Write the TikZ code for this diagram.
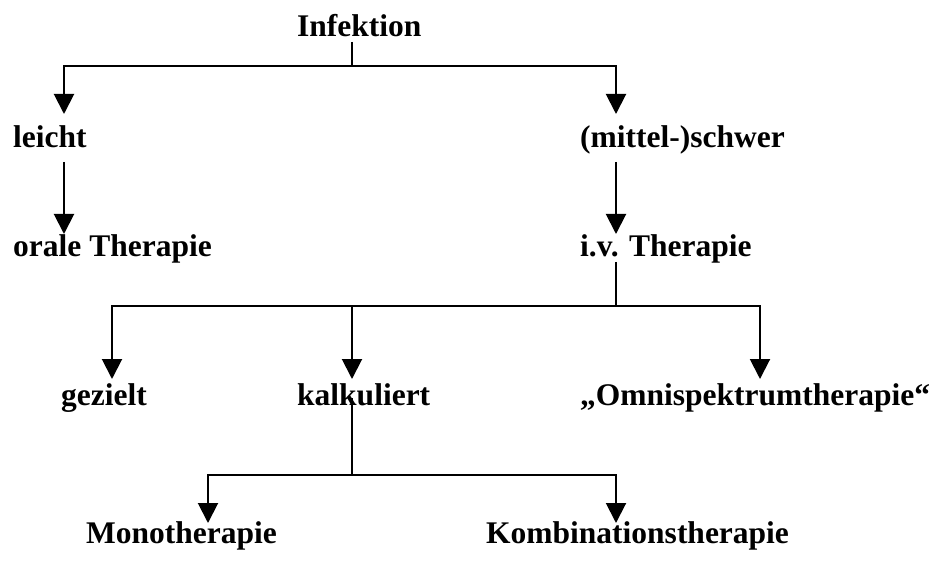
\documentclass[tikz,border=0pt]{standalone}
\usepackage{fontspec}
\setmainfont{Liberation Serif}
\usetikzlibrary{arrows.meta}
\begin{document}
\begin{tikzpicture}[x=1pt,y=-1pt,
  lbl/.style={anchor=base west,inner sep=0pt,font=\fontsize{31.5}{36}\selectfont\bfseries},
  conn/.style={line width=2pt},
  arr/.style={conn,-{Triangle[width=20pt,length=20pt]}}]
\useasboundingbox[fill=white] (0,0) rectangle (939,561);
% labels
\node[lbl] (inf) at (297,37) {Infektion};
\node[lbl] (lei) at (13,148) {leicht};
\node[lbl] (sch) at (580,148) {(mittel-)schwer};
\node[lbl] (ora) at (13,257) {orale Therapie};
\node[lbl] (iv)  at (580,257) {i.v. Therapie};
\node[lbl] (gez) at (61,405) {gezielt};
\node[lbl] (kal) at (297,405) {kalkuliert};
\node[lbl] (omn) at (580,405) {„Omnispektrumtherapie“};
\node[lbl] (mon) at (86,543) {Monotherapie};
\node[lbl] (kom) at (486,543) {Kombinationstherapie};
% connector points
\coordinate (infS) at (352,42);
\coordinate (j1)  at (352,66);
\coordinate (leiN) at (64,114);
\coordinate (schN) at (616,114);
\coordinate (leiS) at (64,162);
\coordinate (oraN) at (64,234);
\coordinate (schS) at (616,162);
\coordinate (ivN) at (616,234);
\coordinate (ivS) at (616,262);
\coordinate (j2) at (616,306);
\coordinate (gezN) at (112,379);
\coordinate (kalN) at (352,379);
\coordinate (omnN) at (760,379);
\coordinate (kalS) at (352,398);
\coordinate (j3) at (352,475);
\coordinate (monN) at (208,523);
\coordinate (komN) at (616,523);
% connectors
\draw[conn] (infS) -- (j1);
\draw[arr] (j1) -| (leiN);
\draw[arr] (j1) -| (schN);
\draw[arr] (leiS) -- (oraN);
\draw[arr] (schS) -- (ivN);
\draw[conn] (ivS) -- (j2);
\draw[arr] (j2) -| (gezN);
\draw[arr] (j2 -| kalN) -- (kalN);
\draw[arr] (j2) -| (omnN);
\draw[conn] (kalS) -- (j3);
\draw[arr] (j3) -| (monN);
\draw[arr] (j3) -| (komN);
\end{tikzpicture}
\end{document}
